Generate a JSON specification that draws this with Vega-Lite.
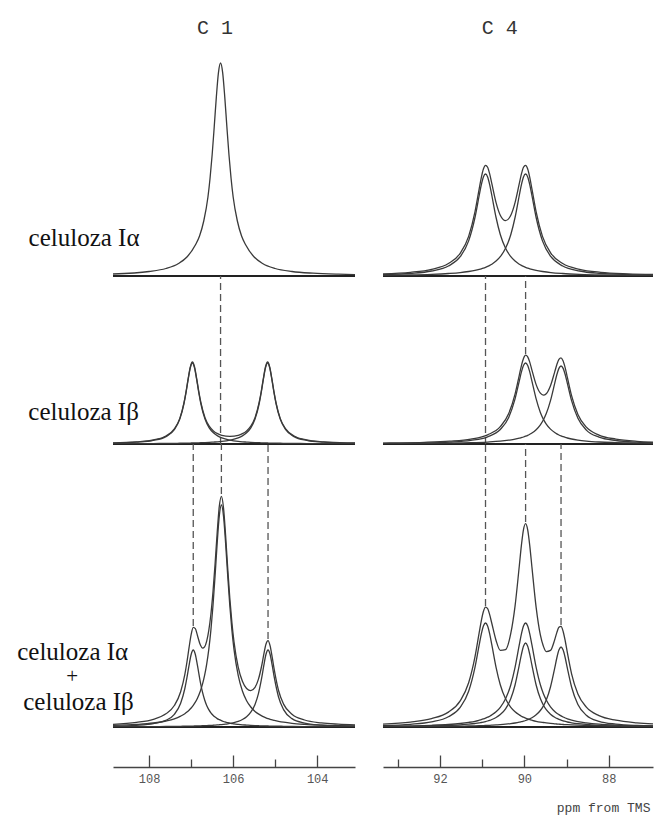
{
"$schema":"https://vega.github.io/schema/vega-lite/v6.json",
"padding":{"left":17,"top":15,"right":0,"bottom":0},
"background":"white",
"config":{"view":{"stroke":null}},
"bounds":"flush",
"columns":2,
"spacing":{"row":0,"column":28},
"datasets":{
"c1a":[{"x":108.86,"e":2.0},{"x":108.0,"e":4.5},{"x":107.6,"e":7.5},{"x":107.3,"e":12.5},{"x":107.1,"e":19},{"x":106.9,"e":31},{"x":106.8,"e":40},{"x":106.7,"e":55},{"x":106.6,"e":79},{"x":106.55,"e":97.7},{"x":106.5,"e":121.3},{"x":106.45,"e":149.5},{"x":106.4,"e":179.1},{"x":106.35,"e":203.4},{"x":106.3,"e":213},{"x":106.25,"e":203.4},{"x":106.2,"e":179.1},{"x":106.15,"e":149.5},{"x":106.1,"e":121.3},{"x":106.05,"e":97.7},{"x":106.0,"e":79},{"x":105.9,"e":55},{"x":105.8,"e":40},{"x":105.7,"e":31},{"x":105.5,"e":19},{"x":105.3,"e":12.5},{"x":105.0,"e":7.5},{"x":104.6,"e":4.5},{"x":104.1,"e":2.8},{"x":103.5,"e":1.8},{"x":103.1,"e":1.4}],
"c1b":[{"x":108.86,"p1":0.9,"p2":0.24,"e":1.1},{"x":108.3,"p1":1.8,"p2":0.33,"e":2.1},{"x":107.9,"p1":3.6,"p2":0.44,"e":4.0},{"x":107.6,"p1":7.4,"p2":0.55,"e":8.0},{"x":107.4,"p1":14.4,"p2":0.65,"e":15.1},{"x":107.27,"p1":24.9,"p2":0.74,"e":25.6},{"x":107.17,"p1":40.5,"p2":0.8,"e":41.3},{"x":107.12,"p1":51.8,"p2":0.85,"e":52.7},{"x":107.07,"p1":64.8,"p2":0.9,"e":65.7},{"x":107.02,"p1":76.2,"p2":0.95,"e":77.2},{"x":106.97,"p1":81,"p2":1.0,"e":82},{"x":106.92,"p1":76.2,"p2":1.05,"e":77.3},{"x":106.87,"p1":64.8,"p2":1.1,"e":65.9},{"x":106.82,"p1":51.8,"p2":1.2,"e":53.0},{"x":106.77,"p1":40.5,"p2":1.3,"e":41.8},{"x":106.67,"p1":24.9,"p2":1.4,"e":26.3},{"x":106.57,"p1":16.2,"p2":1.6,"e":17.8},{"x":106.47,"p1":11.2,"p2":1.9,"e":13.1},{"x":106.37,"p1":8.1,"p2":2.2,"e":10.3},{"x":106.27,"p1":6.1,"p2":2.6,"e":8.7},{"x":106.075,"p1":3.86,"p2":3.86,"e":7.7},{"x":105.88,"p1":2.6,"p2":6.1,"e":8.7},{"x":105.78,"p1":2.2,"p2":8.1,"e":10.3},{"x":105.68,"p1":1.9,"p2":11.2,"e":13.1},{"x":105.58,"p1":1.6,"p2":16.2,"e":17.8},{"x":105.48,"p1":1.4,"p2":24.9,"e":26.3},{"x":105.38,"p1":1.3,"p2":40.5,"e":41.8},{"x":105.33,"p1":1.2,"p2":51.8,"e":53.0},{"x":105.28,"p1":1.1,"p2":64.8,"e":65.9},{"x":105.23,"p1":1.05,"p2":76.2,"e":77.3},{"x":105.18,"p1":1.0,"p2":81,"e":82},{"x":105.13,"p1":0.95,"p2":76.2,"e":77.2},{"x":105.08,"p1":0.9,"p2":64.8,"e":65.7},{"x":105.03,"p1":0.85,"p2":51.8,"e":52.7},{"x":104.98,"p1":0.8,"p2":40.5,"e":41.3},{"x":104.88,"p1":0.74,"p2":24.9,"e":25.6},{"x":104.75,"p1":0.65,"p2":14.4,"e":15.1},{"x":104.55,"p1":0.55,"p2":7.4,"e":8.0},{"x":104.25,"p1":0.44,"p2":3.6,"e":4.0},{"x":103.85,"p1":0.33,"p2":1.8,"e":2.1},{"x":103.29,"p1":0.24,"p2":0.9,"e":1.1},{"x":103.1,"p1":0.22,"p2":0.75,"e":1.0}],
"c1c":[{"x":108.86,"b1":0.84,"a":1.6,"b2":0.23,"e":2.7},{"x":108.3,"b1":1.65,"a":2.6,"b2":0.31,"e":4.6},{"x":107.9,"b1":3.3,"a":4.0,"b2":0.41,"e":7.7},{"x":107.6,"b1":6.7,"a":6.0,"b2":0.52,"e":13.2},{"x":107.4,"b1":12.7,"a":8.2,"b2":0.61,"e":21.5},{"x":107.25,"b1":23.7,"a":10.9,"b2":0.7,"e":35.3},{"x":107.15,"b1":38.5,"a":13.3,"b2":0.78,"e":52.6},{"x":107.1,"b1":49.3,"a":14.9,"b2":0.82,"e":65.0},{"x":107.05,"b1":61.6,"a":16.8,"b2":0.86,"e":79.3},{"x":107.0,"b1":72.5,"a":19.0,"b2":0.91,"e":92.4},{"x":106.95,"b1":77,"a":21.6,"b2":0.96,"e":99.6},{"x":106.9,"b1":72.5,"a":24.8,"b2":1.02,"e":98.3},{"x":106.85,"b1":61.6,"a":28.8,"b2":1.08,"e":91.5},{"x":106.78,"b1":44.7,"a":36.0,"b2":1.17,"e":81.9},{"x":106.73,"b1":34.8,"a":42.8,"b2":1.25,"e":78.9},{"x":106.68,"b1":27.3,"a":51.6,"b2":1.33,"e":80.2},{"x":106.63,"b1":21.6,"a":62.9,"b2":1.42,"e":85.9},{"x":106.58,"b1":17.4,"a":77.7,"b2":1.52,"e":96.6},{"x":106.53,"b1":14.2,"a":96.9,"b2":1.63,"e":112.7},{"x":106.48,"b1":11.8,"a":121.5,"b2":1.75,"e":135.1},{"x":106.43,"b1":9.9,"a":151.5,"b2":1.89,"e":163.3},{"x":106.38,"b1":8.4,"a":184,"b2":2.05,"e":194.5},{"x":106.33,"b1":7.3,"a":211.1,"b2":2.23,"e":220.6},{"x":106.28,"b1":6.3,"a":222,"b2":2.42,"e":230.7},{"x":106.23,"b1":5.5,"a":211.1,"b2":2.65,"e":219.3},{"x":106.18,"b1":4.9,"a":184,"b2":2.9,"e":191.8},{"x":106.13,"b1":4.3,"a":151.5,"b2":3.2,"e":159.0},{"x":106.08,"b1":3.9,"a":121.5,"b2":3.55,"e":129.0},{"x":106.03,"b1":3.5,"a":96.9,"b2":3.95,"e":104.4},{"x":105.98,"b1":3.1,"a":77.7,"b2":4.43,"e":85.2},{"x":105.88,"b1":2.6,"a":51.6,"b2":5.66,"e":59.9},{"x":105.78,"b1":2.2,"a":36.0,"b2":7.5,"e":45.7},{"x":105.68,"b1":1.9,"a":26.3,"b2":10.3,"e":38.5},{"x":105.58,"b1":1.6,"a":20.0,"b2":14.8,"e":36.4},{"x":105.48,"b1":1.4,"a":15.6,"b2":22.6,"e":39.6},{"x":105.4,"b1":1.3,"a":13.1,"b2":33.2,"e":47.6},{"x":105.32,"b1":1.1,"a":11.1,"b2":49.3,"e":61.5},{"x":105.27,"b1":1.1,"a":10.1,"b2":61.6,"e":72.8},{"x":105.22,"b1":1.0,"a":9.2,"b2":72.5,"e":82.7},{"x":105.17,"b1":1.0,"a":8.4,"b2":77,"e":86.4},{"x":105.12,"b1":0.9,"a":7.7,"b2":72.5,"e":81.1},{"x":105.07,"b1":0.9,"a":7.1,"b2":61.6,"e":69.6},{"x":105.02,"b1":0.85,"a":6.6,"b2":49.3,"e":56.8},{"x":104.92,"b1":0.8,"a":5.7,"b2":30.0,"e":36.5},{"x":104.8,"b1":0.7,"a":4.8,"b2":17.4,"e":22.9},{"x":104.6,"b1":0.55,"a":3.7,"b2":8.4,"e":12.7},{"x":104.3,"b1":0.44,"a":2.7,"b2":3.9,"e":7.0},{"x":103.9,"b1":0.33,"a":1.9,"b2":1.9,"e":4.1},{"x":103.5,"b1":0.26,"a":1.4,"b2":1.1,"e":2.8},{"x":103.1,"b1":0.21,"a":1.1,"b2":0.72,"e":2.0}],
"c4a":[{"x":93.35,"p1":1.4,"p2":0.75,"e":2.2},{"x":92.7,"p1":2.6,"p2":1.1,"e":3.7},{"x":92.2,"p1":5.0,"p2":1.7,"e":6.7},{"x":91.8,"p1":10.0,"p2":2.5,"e":12.5},{"x":91.52,"p1":19.3,"p2":3.4,"e":22.7},{"x":91.32,"p1":35.1,"p2":4.5,"e":39.6},{"x":91.17,"p1":58.5,"p2":5.6,"e":64.1},{"x":91.07,"p1":80.5,"p2":6.6,"e":87.1},{"x":91.02,"p1":91.2,"p2":7.2,"e":98.4},{"x":90.97,"p1":99.1,"p2":7.9,"e":107.0},{"x":90.92,"p1":102,"p2":8.7,"e":110.7},{"x":90.87,"p1":99.1,"p2":9.6,"e":108.7},{"x":90.82,"p1":91.2,"p2":10.6,"e":101.8},{"x":90.77,"p1":80.5,"p2":11.8,"e":92.3},{"x":90.67,"p1":58.5,"p2":14.9,"e":73.4},{"x":90.57,"p1":41.5,"p2":19.3,"e":60.8},{"x":90.445,"p1":27.7,"p2":27.7,"e":55.4},{"x":90.32,"p1":19.3,"p2":41.5,"e":60.8},{"x":90.22,"p1":14.9,"p2":58.5,"e":73.4},{"x":90.12,"p1":11.8,"p2":80.5,"e":92.3},{"x":90.07,"p1":10.6,"p2":91.2,"e":101.8},{"x":90.02,"p1":9.6,"p2":99.1,"e":108.7},{"x":89.97,"p1":8.7,"p2":102,"e":110.7},{"x":89.92,"p1":7.9,"p2":99.1,"e":107.0},{"x":89.87,"p1":7.2,"p2":91.2,"e":98.4},{"x":89.82,"p1":6.6,"p2":80.5,"e":87.1},{"x":89.72,"p1":5.6,"p2":58.5,"e":64.1},{"x":89.57,"p1":4.5,"p2":35.1,"e":39.6},{"x":89.37,"p1":3.4,"p2":19.3,"e":22.7},{"x":89.09,"p1":2.5,"p2":10.0,"e":12.5},{"x":88.69,"p1":1.7,"p2":5.0,"e":6.7},{"x":88.19,"p1":1.1,"p2":2.6,"e":3.7},{"x":87.54,"p1":0.75,"p2":1.4,"e":2.2},{"x":86.93,"p1":0.54,"p2":0.92,"e":1.5}],
"c4b":[{"x":93.35,"p1":0.55,"p2":0.34,"e":0.89},{"x":92.97,"p1":0.7,"p2":0.41,"e":1.11},{"x":92.37,"p1":1.09,"p2":0.58,"e":1.67},{"x":91.77,"p1":1.9,"p2":0.87,"e":2.8},{"x":91.27,"p1":3.6,"p2":1.3,"e":4.9},{"x":90.87,"p1":7.2,"p2":1.97,"e":9.2},{"x":90.57,"p1":14.5,"p2":2.8,"e":17.3},{"x":90.37,"p1":26.6,"p2":3.8,"e":30.4},{"x":90.22,"p1":45.1,"p2":4.8,"e":49.9},{"x":90.12,"p1":62.9,"p2":5.8,"e":68.7},{"x":90.07,"p1":71.8,"p2":6.4,"e":78.2},{"x":90.02,"p1":78.5,"p2":7.0,"e":85.5},{"x":89.97,"p1":81,"p2":7.8,"e":88.8},{"x":89.92,"p1":78.5,"p2":8.7,"e":87.2},{"x":89.87,"p1":71.8,"p2":9.8,"e":81.6},{"x":89.82,"p1":62.9,"p2":11.0,"e":73.9},{"x":89.72,"p1":45.1,"p2":14.3,"e":59.4},{"x":89.62,"p1":31.6,"p2":19.2,"e":50.8},{"x":89.55,"p1":24.9,"p2":24.0,"e":48.9},{"x":89.48,"p1":19.9,"p2":30.4,"e":50.3},{"x":89.38,"p1":14.9,"p2":43.4,"e":58.3},{"x":89.28,"p1":11.5,"p2":60.6,"e":72.1},{"x":89.23,"p1":10.1,"p2":69.2,"e":79.3},{"x":89.18,"p1":9.0,"p2":75.6,"e":84.6},{"x":89.13,"p1":8.1,"p2":78,"e":86.1},{"x":89.08,"p1":7.3,"p2":75.6,"e":82.9},{"x":89.03,"p1":6.6,"p2":69.2,"e":75.8},{"x":88.98,"p1":6.0,"p2":60.6,"e":66.6},{"x":88.88,"p1":5.0,"p2":43.4,"e":48.4},{"x":88.73,"p1":3.9,"p2":25.7,"e":29.6},{"x":88.53,"p1":2.9,"p2":13.9,"e":16.8},{"x":88.23,"p1":2.0,"p2":6.9,"e":8.9},{"x":87.83,"p1":1.4,"p2":3.5,"e":4.9},{"x":87.33,"p1":0.9,"p2":1.8,"e":2.7},{"x":86.93,"p1":0.68,"p2":1.24,"e":1.9}],
"c4c":[{"x":93.35,"a1":1.46,"a2":0.76,"b1":0.45,"b2":0.28,"e":2.95},{"x":92.7,"a1":2.7,"a2":1.16,"b1":0.7,"b2":0.39,"e":4.95},{"x":92.2,"a1":5.1,"a2":1.7,"b1":1.04,"b2":0.53,"e":8.4},{"x":91.8,"a1":10.2,"a2":2.5,"b1":1.5,"b2":0.7,"e":14.9},{"x":91.52,"a1":19.7,"a2":3.5,"b1":2.1,"b2":0.87,"e":26.2},{"x":91.32,"a1":35.8,"a2":4.6,"b1":2.8,"b2":1.03,"e":44.2},{"x":91.17,"a1":59.7,"a2":5.7,"b1":3.5,"b2":1.18,"e":70.1},{"x":91.07,"a1":82.1,"a2":6.8,"b1":4.1,"b2":1.3,"e":94.3},{"x":91.02,"a1":92.9,"a2":7.4,"b1":4.5,"b2":1.38,"e":106.2},{"x":90.97,"a1":101.0,"a2":8.1,"b1":4.9,"b2":1.45,"e":115.5},{"x":90.92,"a1":104,"a2":8.9,"b1":5.4,"b2":1.53,"e":119.8},{"x":90.87,"a1":101.0,"a2":9.8,"b1":6.0,"b2":1.62,"e":118.4},{"x":90.82,"a1":92.9,"a2":10.8,"b1":6.7,"b2":1.71,"e":112.1},{"x":90.77,"a1":82.1,"a2":12.1,"b1":7.5,"b2":1.82,"e":103.5},{"x":90.67,"a1":59.7,"a2":15.2,"b1":9.5,"b2":2.05,"e":86.5},{"x":90.57,"a1":42.3,"a2":19.7,"b1":12.4,"b2":2.34,"e":76.7},{"x":90.445,"a1":28.2,"a2":28.2,"b1":18.2,"b2":2.8,"e":77.4},{"x":90.32,"a1":19.7,"a2":42.3,"b1":28.4,"b2":3.4,"e":93.8},{"x":90.22,"a1":15.2,"a2":59.7,"b1":42,"b2":4.0,"e":120.9},{"x":90.12,"a1":12.1,"a2":82.1,"b1":61.8,"b2":4.8,"e":160.8},{"x":90.07,"a1":10.8,"a2":92.9,"b1":72.4,"b2":5.3,"e":181.4},{"x":90.02,"a1":9.8,"a2":101.0,"b1":80.8,"b2":5.8,"e":197.4},{"x":89.97,"a1":8.9,"a2":104,"b1":84,"b2":6.5,"e":203.4},{"x":89.92,"a1":8.1,"a2":101.0,"b1":80.8,"b2":7.3,"e":197.2},{"x":89.87,"a1":7.4,"a2":92.9,"b1":72.4,"b2":8.2,"e":180.9},{"x":89.82,"a1":6.8,"a2":82.1,"b1":61.8,"b2":9.3,"e":160.0},{"x":89.72,"a1":5.7,"a2":59.7,"b1":42,"b2":12.2,"e":119.6},{"x":89.62,"a1":4.9,"a2":42.3,"b1":28.4,"b2":16.5,"e":92.1},{"x":89.55,"a1":4.5,"a2":33.6,"b1":22.0,"b2":20.9,"e":81.0},{"x":89.48,"a1":4.1,"a2":27.0,"b1":17.3,"b2":27.0,"e":75.4},{"x":89.38,"a1":3.6,"a2":20.2,"b1":12.8,"b2":40,"e":76.6},{"x":89.28,"a1":3.2,"a2":15.6,"b1":9.7,"b2":58.8,"e":87.3},{"x":89.23,"a1":3.0,"a2":13.8,"b1":8.6,"b2":69.0,"e":94.4},{"x":89.18,"a1":2.8,"a2":12.4,"b1":7.6,"b2":76.9,"e":99.7},{"x":89.13,"a1":2.7,"a2":11.1,"b1":6.8,"b2":80,"e":100.6},{"x":89.08,"a1":2.5,"a2":10.0,"b1":6.1,"b2":76.9,"e":95.5},{"x":89.03,"a1":2.4,"a2":9.0,"b1":5.6,"b2":69.0,"e":86.0},{"x":88.98,"a1":2.3,"a2":8.2,"b1":5.0,"b2":58.8,"e":74.3},{"x":88.88,"a1":2.1,"a2":6.9,"b1":4.2,"b2":40,"e":53.2},{"x":88.73,"a1":1.8,"a2":5.4,"b1":3.3,"b2":22.5,"e":33.0},{"x":88.53,"a1":1.5,"a2":4.1,"b1":2.5,"b2":11.8,"e":19.9},{"x":88.23,"a1":1.2,"a2":2.8,"b1":1.7,"b2":5.7,"e":11.4},{"x":87.83,"a1":0.9,"a2":1.9,"b1":1.1,"b2":2.9,"e":6.8},{"x":87.33,"a1":0.68,"a2":1.24,"b1":0.75,"b2":1.5,"e":4.2},{"x":86.93,"a1":0.55,"a2":0.94,"b1":0.56,"b2":1.0,"e":3.05}]
},
"concat":[
{"width":242,"height":261,"layer":[
 {"data":{"values":[{}]},"mark":{"type":"rule","color":"#222","strokeWidth":2.2},"encoding":{"y":{"datum":0,"type":"quantitative","scale":{"domain":[0,261],"nice":false,"zero":false},"axis":null}}},
 {"data":{"name":"c1a"},"transform":[{"fold":["e"],"as":["curve","v"]}],"mark":{"type":"line","interpolate":"monotone","color":"#3a3a3a","strokeWidth":1.3,"clip":true},"encoding":{"x":{"field":"x","type":"quantitative","scale":{"domain":[103.1,108.86],"reverse":true,"nice":false,"zero":false},"axis":null},"y":{"field":"v","type":"quantitative","scale":{"domain":[0,261],"nice":false,"zero":false},"axis":null},"detail":{"field":"curve"}}},
 {"data":{"values":[{}]},"mark":{"type":"text","text":"C 1","font":"Liberation Mono","fontSize":20,"color":"#333","align":"center","baseline":"middle"},"encoding":{"x":{"datum":106.43,"type":"quantitative","scale":{"domain":[103.1,108.86],"reverse":true,"nice":false,"zero":false},"axis":null},"y":{"datum":248,"type":"quantitative","scale":{"domain":[0,261],"nice":false,"zero":false},"axis":null}}},
 {"data":{"values":[{}]},"mark":{"type":"text","text":"celuloza Iα","font":"Liberation Serif","fontSize":25,"color":"#111","align":"center","baseline":"alphabetic"},"encoding":{"x":{"datum":109.55,"type":"quantitative","scale":{"domain":[103.1,108.86],"reverse":true,"nice":false,"zero":false},"axis":null},"y":{"datum":30,"type":"quantitative","scale":{"domain":[0,261],"nice":false,"zero":false},"axis":null}}}
]},
{"width":270,"height":261,"layer":[
 {"data":{"values":[{}]},"mark":{"type":"rule","color":"#222","strokeWidth":2.2},"encoding":{"y":{"datum":0,"type":"quantitative","scale":{"domain":[0,261],"nice":false,"zero":false},"axis":null}}},
 {"data":{"name":"c4a"},"transform":[{"fold":["p1","p2","e"],"as":["curve","v"]}],"mark":{"type":"line","interpolate":"monotone","color":"#3a3a3a","strokeWidth":1.3,"clip":true},"encoding":{"x":{"field":"x","type":"quantitative","scale":{"domain":[86.95,93.35],"reverse":true,"nice":false,"zero":false},"axis":null},"y":{"field":"v","type":"quantitative","scale":{"domain":[0,261],"nice":false,"zero":false},"axis":null},"detail":{"field":"curve"}}},
 {"data":{"values":[{}]},"mark":{"type":"text","text":"C 4","font":"Liberation Mono","fontSize":20,"color":"#333","align":"center","baseline":"middle"},"encoding":{"x":{"datum":90.58,"type":"quantitative","scale":{"domain":[86.95,93.35],"reverse":true,"nice":false,"zero":false},"axis":null},"y":{"datum":248,"type":"quantitative","scale":{"domain":[0,261],"nice":false,"zero":false},"axis":null}}}
]},
{"width":242,"height":168,"layer":[
 {"data":{"values":[{}]},"mark":{"type":"rule","color":"#222","strokeWidth":2.2},"encoding":{"y":{"datum":0,"type":"quantitative","scale":{"domain":[0,168],"nice":false,"zero":false},"axis":null}}},
 {"data":{"values":[{"x":106.3,"y":0}]},"mark":{"type":"rule","color":"#555","strokeWidth":1.3,"strokeDash":[7,4]},"encoding":{"x":{"field":"x","type":"quantitative","scale":{"domain":[103.1,108.86],"reverse":true,"nice":false,"zero":false},"axis":null},"y":{"field":"y","type":"quantitative","scale":{"domain":[0,168],"nice":false,"zero":false},"axis":null},"y2":{"datum":168}}},
 {"data":{"name":"c1b"},"transform":[{"fold":["p1","p2","e"],"as":["curve","v"]}],"mark":{"type":"line","interpolate":"monotone","color":"#3a3a3a","strokeWidth":1.3,"clip":true},"encoding":{"x":{"field":"x","type":"quantitative","scale":{"domain":[103.1,108.86],"reverse":true,"nice":false,"zero":false},"axis":null},"y":{"field":"v","type":"quantitative","scale":{"domain":[0,168],"nice":false,"zero":false},"axis":null},"detail":{"field":"curve"}}},
 {"data":{"values":[{}]},"mark":{"type":"text","text":"celuloza Iβ","font":"Liberation Serif","fontSize":25,"color":"#111","align":"center","baseline":"alphabetic"},"encoding":{"x":{"datum":109.56,"type":"quantitative","scale":{"domain":[103.1,108.86],"reverse":true,"nice":false,"zero":false},"axis":null},"y":{"datum":24,"type":"quantitative","scale":{"domain":[0,168],"nice":false,"zero":false},"axis":null}}}
]},
{"width":270,"height":168,"layer":[
 {"data":{"values":[{}]},"mark":{"type":"rule","color":"#222","strokeWidth":2.2},"encoding":{"y":{"datum":0,"type":"quantitative","scale":{"domain":[0,168],"nice":false,"zero":false},"axis":null}}},
 {"data":{"values":[{"x":90.92,"y":0},{"x":89.97,"y":90}]},"mark":{"type":"rule","color":"#555","strokeWidth":1.3,"strokeDash":[7,4]},"encoding":{"x":{"field":"x","type":"quantitative","scale":{"domain":[86.95,93.35],"reverse":true,"nice":false,"zero":false},"axis":null},"y":{"field":"y","type":"quantitative","scale":{"domain":[0,168],"nice":false,"zero":false},"axis":null},"y2":{"datum":168}}},
 {"data":{"name":"c4b"},"transform":[{"fold":["p1","p2","e"],"as":["curve","v"]}],"mark":{"type":"line","interpolate":"monotone","color":"#3a3a3a","strokeWidth":1.3,"clip":true},"encoding":{"x":{"field":"x","type":"quantitative","scale":{"domain":[86.95,93.35],"reverse":true,"nice":false,"zero":false},"axis":null},"y":{"field":"v","type":"quantitative","scale":{"domain":[0,168],"nice":false,"zero":false},"axis":null},"detail":{"field":"curve"}}}
]},
{"width":242,"height":283,"resolve":{"axis":{"x":"independent"}},"layer":[
 {"data":{"values":[{}]},"mark":{"type":"rule","color":"#222","strokeWidth":2.2},"encoding":{"y":{"datum":0,"type":"quantitative","scale":{"domain":[0,283],"nice":false,"zero":false},"axis":null}}},
 {"data":{"values":[{"x":106.28,"y":233},{"x":106.95,"y":101},{"x":105.17,"y":88}]},"mark":{"type":"rule","color":"#555","strokeWidth":1.3,"strokeDash":[7,4]},"encoding":{"x":{"field":"x","type":"quantitative","scale":{"domain":[103.1,108.86],"reverse":true,"nice":false,"zero":false},"axis":{"orient":"bottom","offset":40,"values":[107,105],"tickSize":-8,"labels":false,"domain":false,"ticks":true,"tickColor":"#444","tickWidth":1.3,"grid":false,"title":null}},"y":{"field":"y","type":"quantitative","scale":{"domain":[0,283],"nice":false,"zero":false},"axis":null},"y2":{"datum":283}}},
 {"data":{"name":"c1c"},"transform":[{"fold":["b1","a","b2","e"],"as":["curve","v"]}],"mark":{"type":"line","interpolate":"monotone","color":"#3a3a3a","strokeWidth":1.3,"clip":true},"encoding":{"x":{"field":"x","type":"quantitative","scale":{"domain":[103.1,108.86],"reverse":true,"nice":false,"zero":false},"axis":{"orient":"bottom","offset":40,"values":[108,106,104],"tickSize":-12,"labelPadding":18,"domainColor":"#444","domainWidth":1.5,"tickColor":"#444","tickWidth":1.3,"labelFont":"Liberation Mono","labelFontSize":12,"labelColor":"#555","grid":false,"title":null}},"y":{"field":"v","type":"quantitative","scale":{"domain":[0,283],"nice":false,"zero":false},"axis":null},"detail":{"field":"curve"}}},
 {"data":{"values":[{}]},"mark":{"type":"text","text":"celuloza Iα","font":"Liberation Serif","fontSize":25,"color":"#111","align":"center","baseline":"alphabetic"},"encoding":{"x":{"datum":109.82,"type":"quantitative","scale":{"domain":[103.1,108.86],"reverse":true,"nice":false,"zero":false},"axis":null},"y":{"datum":67,"type":"quantitative","scale":{"domain":[0,283],"nice":false,"zero":false},"axis":null}}},
 {"data":{"values":[{}]},"mark":{"type":"text","text":"+","font":"Liberation Serif","fontSize":21,"color":"#111","align":"center","baseline":"middle"},"encoding":{"x":{"datum":109.83,"type":"quantitative","scale":{"domain":[103.1,108.86],"reverse":true,"nice":false,"zero":false},"axis":null},"y":{"datum":50,"type":"quantitative","scale":{"domain":[0,283],"nice":false,"zero":false},"axis":null}}},
 {"data":{"values":[{}]},"mark":{"type":"text","text":"celuloza Iβ","font":"Liberation Serif","fontSize":25,"color":"#111","align":"center","baseline":"alphabetic"},"encoding":{"x":{"datum":109.68,"type":"quantitative","scale":{"domain":[103.1,108.86],"reverse":true,"nice":false,"zero":false},"axis":null},"y":{"datum":17,"type":"quantitative","scale":{"domain":[0,283],"nice":false,"zero":false},"axis":null}}}
]},
{"width":270,"height":283,"resolve":{"axis":{"x":"independent"}},"layer":[
 {"data":{"values":[{}]},"mark":{"type":"rule","color":"#222","strokeWidth":2.2},"encoding":{"y":{"datum":0,"type":"quantitative","scale":{"domain":[0,283],"nice":false,"zero":false},"axis":null}}},
 {"data":{"values":[{"x":90.92,"y":121},{"x":89.97,"y":205},{"x":89.13,"y":102}]},"mark":{"type":"rule","color":"#555","strokeWidth":1.3,"strokeDash":[7,4]},"encoding":{"x":{"field":"x","type":"quantitative","scale":{"domain":[86.95,93.35],"reverse":true,"nice":false,"zero":false},"axis":{"orient":"bottom","offset":40,"values":[93,91,89],"tickSize":-8,"labels":false,"domain":false,"ticks":true,"tickColor":"#444","tickWidth":1.3,"grid":false,"title":null}},"y":{"field":"y","type":"quantitative","scale":{"domain":[0,283],"nice":false,"zero":false},"axis":null},"y2":{"datum":283}}},
 {"data":{"name":"c4c"},"transform":[{"fold":["a1","a2","b1","b2","e"],"as":["curve","v"]}],"mark":{"type":"line","interpolate":"monotone","color":"#3a3a3a","strokeWidth":1.3,"clip":true},"encoding":{"x":{"field":"x","type":"quantitative","scale":{"domain":[86.95,93.35],"reverse":true,"nice":false,"zero":false},"axis":{"orient":"bottom","offset":40,"values":[92,90,88],"tickSize":-12,"labelPadding":18,"domainColor":"#444","domainWidth":1.5,"tickColor":"#444","tickWidth":1.3,"labelFont":"Liberation Mono","labelFontSize":12,"labelColor":"#555","grid":false,"title":null}},"y":{"field":"v","type":"quantitative","scale":{"domain":[0,283],"nice":false,"zero":false},"axis":null},"detail":{"field":"curve"}}},
 {"data":{"values":[{}]},"mark":{"type":"text","text":"ppm from TMS","font":"Liberation Mono","fontSize":13,"color":"#444","align":"left","baseline":"alphabetic"},"encoding":{"x":{"datum":89.23,"type":"quantitative","scale":{"domain":[86.95,93.35],"reverse":true,"nice":false,"zero":false},"axis":null},"y":{"datum":-85,"type":"quantitative","scale":{"domain":[0,283],"nice":false,"zero":false},"axis":null}}}
]}
]
}
